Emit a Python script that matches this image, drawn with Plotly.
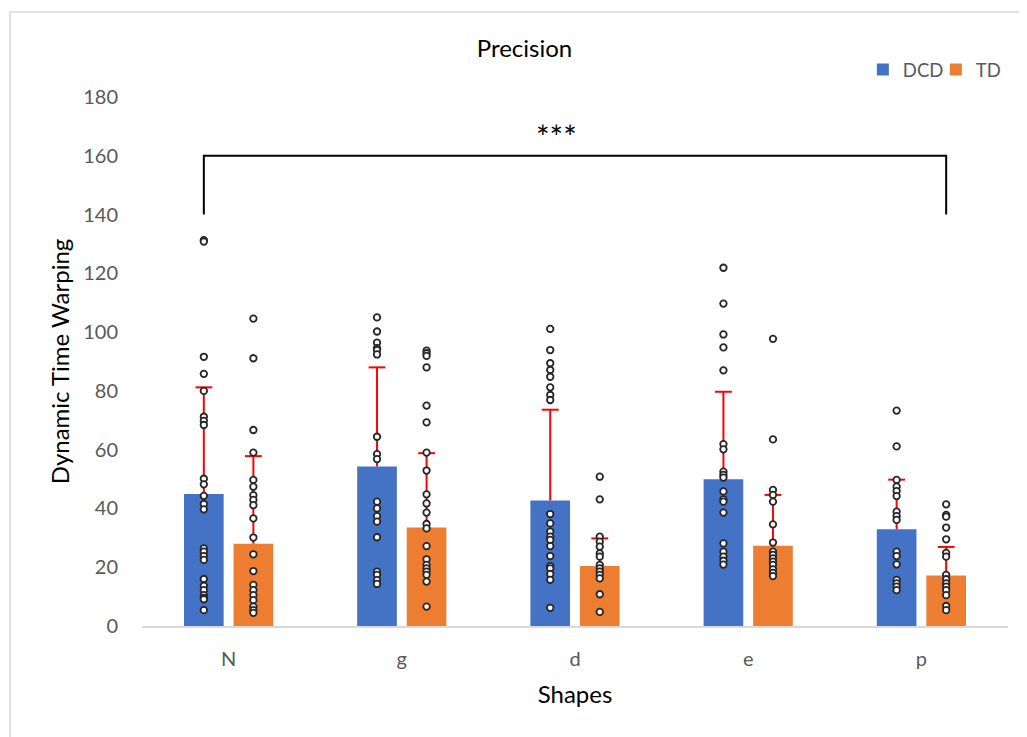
import plotly.graph_objects as go
import numpy as np

shapes = ["N", "g", "d", "e", "p"]
series_names = ["DCD", "TD"]
dcd_mean = [44.9, 54.3, 42.7, 49.9, 32.9]
dcd_sd = [36.3, 33.7, 30.9, 29.8, 16.9]
td_mean = [28.0, 33.5, 20.4, 27.3, 17.2]
td_sd = [29.8, 25.3, 9.4, 17.3, 9.7]

dcd_points = [
    [131.3, 130.8, 91.6, 85.8, 80.0, 71.2, 69.8, 68.4, 50.1, 48.2, 44.3, 41.5, 39.7,
     26.4, 25.3, 23.8, 22.5, 16.0, 13.7, 12.2, 10.5, 9.6, 9.1, 5.4],
    [105.0, 100.2, 96.4, 94.5, 93.9, 92.4, 64.4, 58.5, 56.8, 42.3, 40.0, 37.4, 35.5,
     30.2, 18.5, 17.4, 15.6, 14.3],
    [101.1, 93.9, 89.4, 87.1, 84.8, 81.2, 78.6, 76.9, 38.1, 34.9, 32.1, 30.4, 29.3,
     27.2, 23.8, 20.4, 19.6, 17.7, 15.7, 6.2],
    [121.9, 109.7, 99.2, 94.8, 87.0, 61.9, 60.1, 52.5, 51.4, 50.5, 45.8, 43.1, 42.3,
     38.6, 28.1, 25.3, 23.6, 22.2, 20.9],
    [73.3, 61.1, 49.7, 47.4, 45.9, 44.2, 38.9, 37.4, 36.1, 25.3, 23.8, 21.0, 15.7,
     14.5, 13.4, 12.2],
]
td_points = [
    [104.6, 91.1, 66.7, 59.0, 49.7, 47.4, 44.5, 42.9, 41.1, 36.6, 30.1, 24.4, 18.7,
     14.0, 12.2, 10.5, 8.8, 6.6, 5.4, 4.5],
    [93.7, 92.8, 91.9, 88.0, 75.0, 69.3, 59.0, 52.9, 44.8, 41.7, 38.6, 34.7, 33.2,
     27.2, 22.7, 20.8, 19.6, 18.5, 17.4, 15.1, 6.6],
    [50.8, 43.1, 30.4, 28.7, 27.0, 24.7, 23.6, 20.8, 19.6, 18.5, 17.4, 16.2, 10.8, 4.8],
    [97.7, 63.5, 46.3, 44.6, 42.3, 34.6, 28.4, 25.3, 24.2, 23.0, 21.9, 20.8, 19.3,
     18.1, 17.0],
    [41.4, 37.8, 37.2, 33.5, 29.5, 24.9, 23.6, 17.4, 15.9, 14.5, 13.4, 12.2, 10.5,
     6.8, 5.4],
]
y_ticks = [0, 20, 40, 60, 80, 100, 120, 140, 160, 180]
bracket_low, bracket_high = 140, 160
sig_label = "***"
sig_label_y = 166.5

colors = ["#4472C4", "#ED7D31"]
offset = 0.143
bar_w = 0.229
xi = np.arange(len(shapes))

fig = go.Figure()
groups = [(dcd_mean, dcd_sd, dcd_points, -offset), (td_mean, td_sd, td_points, offset)]
for k, (means, sds, pts, off) in enumerate(groups):
    xs = xi + off
    fig.add_trace(go.Bar(x=xs, y=means, width=bar_w, name=series_names[k],
                         marker=dict(color=colors[k], line=dict(width=0)),
                         showlegend=True))
for k, (means, sds, pts, off) in enumerate(groups):
    xs = xi + off
    lx, ly = [], []
    for i in range(len(shapes)):
        lx += [xs[i], xs[i], None]
        ly += [means[i], means[i] + sds[i], None]
    fig.add_trace(go.Scatter(x=lx, y=ly, mode="lines", line=dict(color="#FF0000", width=2),
                             showlegend=False, hoverinfo="skip"))
    fig.add_trace(go.Scatter(x=xs, y=[m + s for m, s in zip(means, sds)], mode="markers",
                             marker=dict(symbol="line-ew", size=12,
                                         line=dict(color="#FF0000", width=2)),
                             showlegend=False, hoverinfo="skip"))
for k, (means, sds, pts, off) in enumerate(groups):
    xs = xi + off
    px, py = [], []
    for i in range(len(shapes)):
        px += [xs[i]] * len(pts[i])
        py += pts[i]
    fig.add_trace(go.Scatter(x=px, y=py, mode="markers",
                             marker=dict(symbol="circle", size=6.5, color="white",
                                         line=dict(color="#262626", width=1.8)),
                             showlegend=False))

# significance bracket
bx0 = xi[0] - offset
bx1 = xi[-1] + offset
fig.add_trace(go.Scatter(x=[bx0, bx0, bx1, bx1],
                         y=[bracket_low, bracket_high, bracket_high, bracket_low],
                         mode="lines", line=dict(color="black", width=2),
                         showlegend=False, hoverinfo="skip"))
fig.add_annotation(x=0.479, xref="paper", y=sig_label_y, yref="y", text=sig_label,
                   showarrow=False, xanchor="center", yanchor="middle",
                   font=dict(size=32, color="black", family="Lato"))

# chart border
fig.add_shape(type="rect", xref="paper", yref="paper", x0=-0.1524, x1=1.1, y0=-0.3, y1=1.1607,
              line=dict(color="#D9D9D9", width=1.5), fillcolor="rgba(0,0,0,0)", layer="below")

fig.update_layout(
    width=1019, height=729,
    margin=dict(l=134, r=19, t=89, b=111),
    paper_bgcolor="white", plot_bgcolor="white",
    font=dict(family="Lato", color="#595959"),
    barmode="overlay",
    title=dict(text="Precision", x=0.4417, xref="paper", xanchor="center",
               y=0.9444, yanchor="middle",
               font=dict(size=24, color="black", family="Lato")),
    legend=dict(orientation="h", x=0.8324, xanchor="left", y=1.051, yanchor="middle",
                font=dict(size=18.5, color="#595959"), traceorder="normal",
                entrywidth=28, entrywidthmode="pixels", bgcolor="rgba(0,0,0,0)"),
    xaxis=dict(range=[-0.5, len(shapes) - 0.5], tickvals=list(xi), ticktext=shapes,
               showgrid=False, zeroline=False, showline=True, linecolor="#D9D9D9",
               linewidth=1.5, ticks="", ticklabelstandoff=14,
               tickfont=dict(size=20, color="#595959"),
               title=dict(text="Shapes", font=dict(size=24, color="black"), standoff=17)),
    yaxis=dict(range=[0, 180], tickvals=y_ticks, showgrid=False, zeroline=False,
               showline=False, ticks="", ticklabelstandoff=23,
               tickfont=dict(size=20, color="#595959"),
               title=dict(text="Dynamic Time Warping", font=dict(size=24, color="black"),
                          standoff=6)),
)

fig.write_html("out.html")
